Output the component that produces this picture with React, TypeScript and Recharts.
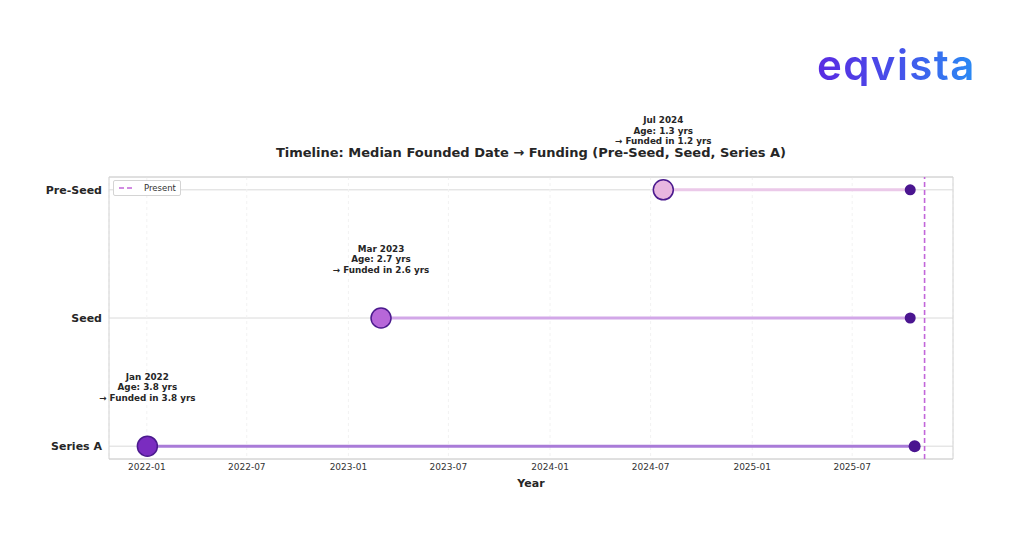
import {
  CartesianGrid,
  Line,
  LineChart,
  ReferenceArea,
  ReferenceLine,
  XAxis,
  YAxis,
} from "recharts";

// stages from bottom (0) to top (2)
const stages = ["Series A", "Seed", "Pre-Seed"];
const foundedDates = ["2022-01-02", "2023-03-01", "2024-07-24"];
const fundedDates = ["2025-10-22", "2025-10-14", "2025-10-14"];
const ageYears = [3.8, 2.7, 1.3];
const fundedInYears = [3.8, 2.6, 1.2];
const presentDate = "2025-11-09";
const xTickDates = [
  "2022-01-01",
  "2022-07-01",
  "2023-01-01",
  "2023-07-01",
  "2024-01-01",
  "2024-07-01",
  "2025-01-01",
  "2025-07-01",
];

const lineColors = ["#a97bd8", "#d2a7e8", "#ebc9e9"];
const startColors = ["#7a2cc0", "#b767d9", "#e8b6e0"];
const edgeColor = "#4b1a8e";
const endColor = "#4a1590";

const MONTHS = ["Jan", "Feb", "Mar", "Apr", "May", "Jun", "Jul", "Aug", "Sep", "Oct", "Nov", "Dec"];
const FONT = "'DejaVu Sans', sans-serif";

const toTs = (s: string) => Date.parse(s + "T00:00:00Z");
const fmtTick = (t: number) => {
  const d = new Date(t);
  return `${d.getUTCFullYear()}-${String(d.getUTCMonth() + 1).padStart(2, "0")}`;
};
const fmtMonth = (s: string) => {
  const d = new Date(toTs(s));
  return `${MONTHS[d.getUTCMonth()]} ${d.getUTCFullYear()}`;
};

const allTs = [...foundedDates, ...fundedDates].map(toTs);
const minTs = Math.min(...allTs);
const maxTs = Math.max(...allTs);
const pad = (maxTs - minTs) * 0.05;
const xDomain = [minTs - pad, maxTs + pad];

const stageData = stages.map((_, i) => [
  { x: toTs(foundedDates[i]), y: i },
  { x: toTs(fundedDates[i]), y: i },
]);

const makeDot = (stage: number) => (props: any) => {
  const { cx, cy, index } = props;
  if (index === 0) {
    return (
      <circle
        key={`s${stage}-${index}`}
        cx={cx}
        cy={cy}
        r={10}
        fill={startColors[stage]}
        stroke={edgeColor}
        strokeWidth={1.5}
      />
    );
  }
  return <circle key={`s${stage}-${index}`} cx={cx} cy={cy} r={stage === 0 ? 6 : 5.5} fill={endColor} />;
};

const makeLabel = (stage: number) => (props: any) => {
  const { x, y, index } = props;
  if (index !== 0) return null;
  const lines = [
    fmtMonth(foundedDates[stage]),
    `Age: ${ageYears[stage].toFixed(1)} yrs`,
    `→ Funded in ${fundedInYears[stage].toFixed(1)} yrs`,
  ];
  return (
    <text
      key={`l${stage}`}
      x={x}
      y={y - 69}
      textAnchor="middle"
      fontFamily={FONT}
      fontSize={8.8}
      fontWeight="bold"
      fill="#262626"
    >
      {lines.map((t, k) => (
        <tspan key={k} x={x} y={y - 69.5 + k * 10.5} dy="0.35em">
          {t}
        </tspan>
      ))}
    </text>
  );
};

export default function App() {
  return (
    <div style={{ position: "absolute", left: 0, top: 0, width: 1024, height: 548, background: "#fff" }}>
      <div
        style={{
          position: "absolute",
          left: 817,
          top: 44,
          fontFamily: "Inter, sans-serif",
          fontWeight: 600,
          fontSize: 42,
          lineHeight: 1,
          letterSpacing: 1.4,
          background: "linear-gradient(90deg, #5a2be2 0%, #4650ea 50%, #2a8cf4 100%)",
          WebkitBackgroundClip: "text",
          backgroundClip: "text",
          color: "transparent",
        }}
      >
        eqvista
      </div>
      <div
        style={{
          position: "absolute",
          left: 0,
          width: 1062,
          top: 146,
          textAlign: "center",
          fontFamily: FONT,
          fontWeight: "bold",
          fontSize: 13,
          lineHeight: 1,
          color: "#262626",
          whiteSpace: "nowrap",
        }}
      >
        Timeline: Median Founded Date → Funding (Pre-Seed, Seed, Series A)
      </div>
      <LineChart width={1024} height={548} margin={{ top: 177, right: 71, bottom: 0, left: 0 }}>
        <CartesianGrid vertical={false} stroke="#dadada" strokeWidth={1} />
        <CartesianGrid horizontal={false} stroke="#f2f2f2" strokeDasharray="3 3" />
        <ReferenceArea
          x1={xDomain[0]}
          x2={xDomain[1]}
          y1={-0.1}
          y2={2.1}
          fill="none"
          stroke="#d2d2d2"
          strokeWidth={1}
          fillOpacity={0}
        />
        <XAxis
          dataKey="x"
          type="number"
          domain={xDomain}
          ticks={xTickDates.map(toTs)}
          tickFormatter={fmtTick}
          allowDataOverflow
          height={89}
          axisLine={false}
          tickLine={false}
          tickSize={0}
          tickMargin={5}
          tick={{ fontFamily: FONT, fontSize: 9, fill: "#333" }}
          label={{
            value: "Year",
            position: "insideTop",
            offset: 20,
            style: { fontFamily: FONT, fontSize: 11, fontWeight: "bold", fill: "#262626" },
          }}
        />
        <YAxis
          type="number"
          domain={[-0.1, 2.1]}
          ticks={[0, 1, 2]}
          tickFormatter={(v: number) => stages[v] ?? ""}
          width={109}
          axisLine={false}
          tickLine={false}
          tickSize={0}
          tickMargin={7}
          tick={{ fontFamily: FONT, fontSize: 11, fontWeight: "bold", fill: "#262626" }}
        />
        <ReferenceLine
          x={toTs(presentDate)}
          stroke="#c266d9"
          strokeWidth={1.6}
          strokeDasharray="5 3"
        />
        {stages.map((s, i) => (
          <Line
            key={s}
            data={stageData[i]}
            dataKey="y"
            name={s}
            type="linear"
            stroke={lineColors[i]}
            strokeWidth={3}
            dot={makeDot(i)}
            activeDot={false}
            label={makeLabel(i)}
            isAnimationActive={false}
          />
        ))}
      </LineChart>
      <div
        style={{
          position: "absolute",
          left: 113,
          top: 180,
          width: 68,
          height: 16,
          boxSizing: "border-box",
          border: "1px solid #d4d4d4",
          borderRadius: 2,
          background: "#fff",
          display: "flex",
          alignItems: "center",
          fontFamily: FONT,
          fontSize: 8.5,
          color: "#333",
        }}
      >
        <svg width={26} height={10} style={{ marginLeft: 4 }}>
          <line x1={1} y1={5} x2={16} y2={5} stroke="#c266d9" strokeWidth={1.6} strokeDasharray="5 3" />
        </svg>
        <span>Present</span>
      </div>
    </div>
  );
}
